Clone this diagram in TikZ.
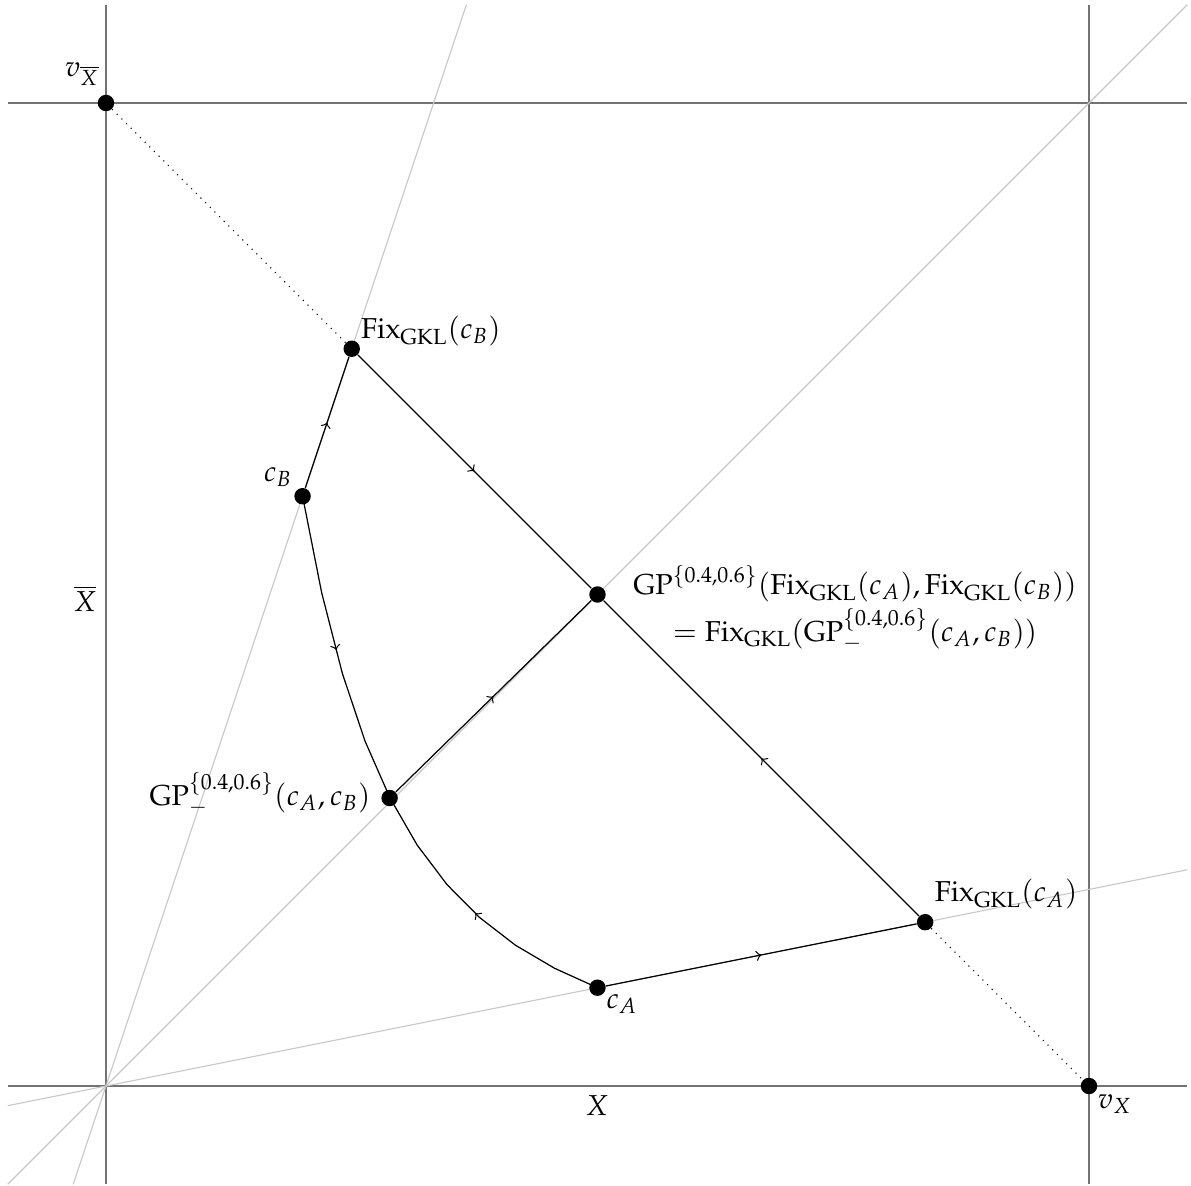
\documentclass[tikz,border=0pt]{standalone}
\usepackage{mathpazo}
\usetikzlibrary{decorations.markings}
\newcommand{\fixg}{\mathrm{Fix}_{\mathrm{GKL}}}
\begin{document}
\begin{tikzpicture}[x=12.6cm,y=12.6cm,
  axis/.style={black!55, line width=0.6pt},
  ray/.style={black!22, line width=0.4pt},
  conn/.style={black, line width=0.45pt},
  midarrow/.style={postaction={decorate,decoration={markings,mark=at position 0.5 with {\arrow{>}}}}},
  dot/.style={circle,fill=black,inner sep=0pt,minimum size=6pt},
  lab/.style={inner sep=0pt,anchor=center,font=\fontsize{10.5}{12.6}\selectfont}]
\useasboundingbox (-0.1078,-0.1017) rectangle (1.1038,1.1048);
% axes
\draw[axis] (-0.1,0) -- (1.1,0);
\draw[axis] (-0.1,1) -- (1.1,1);
\draw[axis] (0,-0.1) -- (0,1.1);
\draw[axis] (1,-0.1) -- (1,1.1);
% rays
\draw[ray] (-0.1,-0.1) -- (1.1,1.1);
\draw[ray] (-0.1/3,-0.1) -- (1.1/3,1.1);
\draw[ray] (-0.1,-0.02) -- (1.1,0.22);
% points
\node[dot] (vXb) at (0,1) {};
\node[dot] (vX) at (1,0) {};
\node[dot] (fB) at (0.25,0.75) {};
\node[dot] (cB) at (0.2,0.6) {};
\node[dot] (m) at (0.5,0.5) {};
\node[dot] (g) at (0.28854,0.29302) {};
\node[dot] (fA) at (5/6,1/6) {};
\node[dot] (cA) at (0.5,0.1) {};
% connectors
\draw[dotted] (vXb) -- (fB);
\draw[dotted] (fA) -- (vX);
\draw[conn,midarrow] (fB) -- (m);
\draw[conn,midarrow] (fA) -- (m);
\draw[conn,midarrow] (cB) -- (fB);
\draw[conn,midarrow] (cA) -- (fA);
\draw[conn,midarrow] (g) -- (m);
\draw[conn,midarrow] plot[domain=0:0.6,samples=7,variable=\t] ({0.5^(1-\t)*0.2^\t},{0.1^(1-\t)*0.6^\t});
\draw[conn,midarrow] plot[domain=1:0.6,samples=5,variable=\t] ({0.5^(1-\t)*0.2^\t},{0.1^(1-\t)*0.6^\t});
% labels
\node[lab] (lvXb) at (-0.0244,1.0295) {$v_{\overline{X}}$};
\node[lab] (lvX) at (1.0264,-0.0183) {$v_{X}$};
\node[lab] (lXb) at (-0.0214,0.4954) {$\overline{X}$};
\node[lab] (lX) at (0.4995,-0.0203) {$X$};
\node[lab] (lfB) at (0.3306,0.768) {$\fixg(c_B)$};
\node[lab] (lcB) at (0.175,0.6195) {$c_B$};
\node[lab,align=center] (lm) at (0.762,0.486) {$\mathrm{GP}^{\{0.4,0.6\}}(\fixg(c_A),\fixg(c_B))$\\[1.5pt] $=\fixg(\mathrm{GP}_{-}^{\{0.4,0.6\}}(c_A,c_B))$};
\node[lab] (lg) at (0.1567,0.297) {$\mathrm{GP}_{-}^{\{0.4,0.6\}}(c_A,c_B)$};
\node[lab] (lfA) at (0.9156,0.1953) {$\fixg(c_A)$};
\node[lab] (lcA) at (0.525,0.0834) {$c_A$};
\end{tikzpicture}
\end{document}
